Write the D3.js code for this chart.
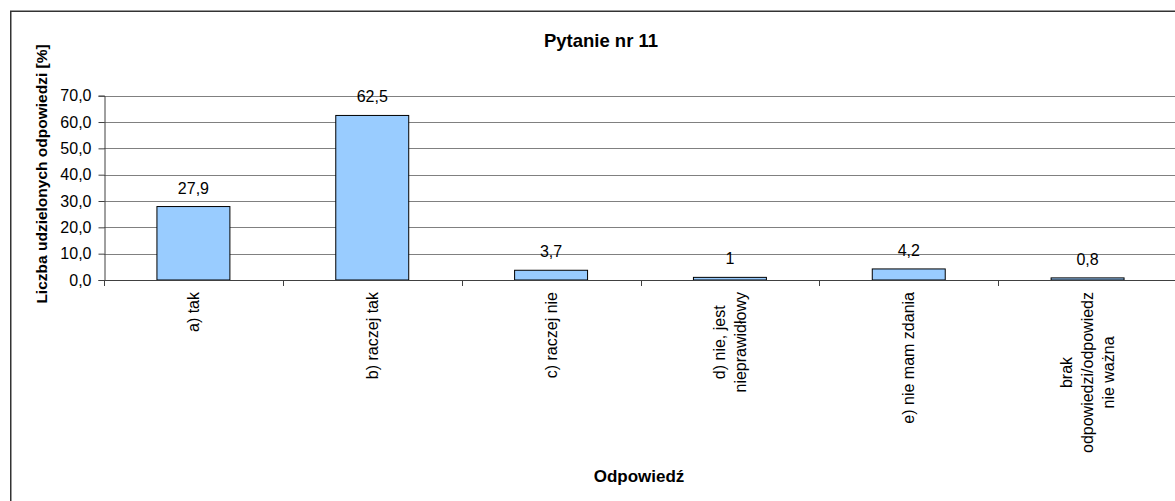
<!DOCTYPE html>
<html><head><meta charset="utf-8">
<script src="https://cdn.jsdelivr.net/npm/d3@7"></script>
<style>
html,body{margin:0;padding:0;background:#fff;}
svg{display:block;font-family:"Liberation Sans",Arial,sans-serif;}
</style></head>
<body>
<svg id="chart" width="1175" height="501"></svg>
<script>
const categories = ["a) tak","b) raczej tak","c) raczej nie","d) nie, jest\nnieprawidłowy","e) nie mam zdania","brak\nodpowiedzi/odpowiedz\nnie ważna"];
const values = [27.9, 62.5, 3.7, 1, 4.2, 0.8];
const valueLabels = ["27,9","62,5","3,7","1","4,2","0,8"];
const yTicks = [0,10,20,30,40,50,60,70];
const chartTitle = "Pytanie nr 11";
const yTitle = "Liczba udzielonych odpowiedzi [%]";
const xTitle = "Odpowiedź";

const svg = d3.select("#chart");
const pLeft = 104, pRight = 1177, pTop = 95.7, pBottom = 280;

// outer frame
svg.append("rect").attr("x",10.75).attr("y",11.25).attr("width",1300).attr("height",700)
  .attr("fill","none").attr("stroke","#333").attr("stroke-width",1.5);

const x = d3.scaleBand().domain(categories).range([pLeft,pRight]).paddingInner(0).paddingOuter(0);
const y = d3.scaleLinear().domain([0,70]).range([pBottom,pTop]);

// gridlines
svg.append("g").selectAll("line").data(yTicks.filter(d=>d>0)).join("line")
  .attr("x1",pLeft).attr("x2",pRight)
  .attr("y1",d=>Math.round(y(d))+0.5).attr("y2",d=>Math.round(y(d))+0.5)
  .attr("stroke","#808080").attr("stroke-width",1);

// y axis
const yAxis = d3.axisLeft(y).tickValues(yTicks).tickSize(6).tickPadding(7)
  .tickFormat(d=>d3.format(".1f")(d).replace(".",","));
const gy = svg.append("g").attr("transform",`translate(${pLeft+0.5},0)`).call(yAxis);
gy.select(".domain").attr("stroke","#404040");
gy.selectAll(".tick line").attr("stroke","#404040");
gy.selectAll(".tick text").attr("font-size",16).attr("fill","#000")
  .attr("font-family","'Liberation Sans',Arial,sans-serif");

// bars
const bw = x.bandwidth()*0.408;
svg.append("g").selectAll("rect").data(values).join("rect")
  .attr("x",(d,i)=>x(categories[i])+x.bandwidth()/2-bw/2)
  .attr("y",d=>y(d))
  .attr("width",bw)
  .attr("height",d=>y(0)-y(d))
  .attr("fill","#99CCFF").attr("stroke","#000").attr("stroke-width",1);

// x axis line and ticks at boundaries
svg.append("line").attr("x1",pLeft).attr("x2",pRight).attr("y1",pBottom+0.5).attr("y2",pBottom+0.5)
  .attr("stroke","#404040").attr("stroke-width",1);
const bounds = categories.map(c=>x(c)).concat([pRight]);
svg.append("g").selectAll("line").data(bounds).join("line")
  .attr("x1",d=>Math.round(d)+0.5).attr("x2",d=>Math.round(d)+0.5)
  .attr("y1",pBottom).attr("y2",pBottom+6)
  .attr("stroke","#404040");

// data labels
svg.append("g").selectAll("text").data(values).join("text")
  .attr("x",(d,i)=>x(categories[i])+x.bandwidth()/2)
  .attr("y",d=>y(d)-13)
  .attr("text-anchor","middle").attr("font-size",16).attr("fill","#000")
  .text((d,i)=>valueLabels[i]);

// category labels (rotated, multiline, block top-aligned)
const labTop = 292, lineGap = 21;
categories.forEach((c,i)=>{
  const lines = c.split("\n");
  const cx = x(c)+x.bandwidth()/2;
  const g = svg.append("g");
  const texts = lines.map(l=>g.append("text").attr("font-size",16).attr("fill","#000")
    .attr("text-anchor","middle").text(l));
  const maxLen = d3.max(texts, t=>t.node().getComputedTextLength());
  const cy = labTop + maxLen/2;
  texts.forEach((t,k)=>{
    const lx = cx + (k-(lines.length-1)/2)*lineGap;
    t.attr("transform",`translate(${lx+5.5},${cy}) rotate(-90)`);
  });
});

// titles
svg.append("text").attr("x",601).attr("y",46.5).attr("text-anchor","middle")
  .attr("font-size",18.5).attr("font-weight","bold").text(chartTitle);
svg.append("text").attr("x",639).attr("y",482).attr("text-anchor","middle")
  .attr("font-size",17).attr("font-weight","bold").text(xTitle);
svg.append("text").attr("transform","translate(47,174) rotate(-90)").attr("text-anchor","middle")
  .attr("font-size",15.5).attr("font-weight","bold").text(yTitle);
</script>
</body></html>
